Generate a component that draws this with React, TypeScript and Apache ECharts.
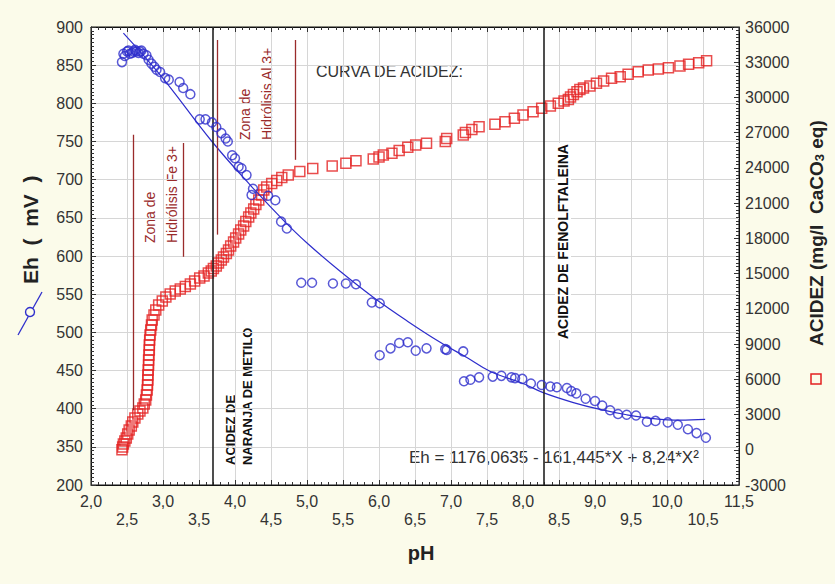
import React, { useEffect, useRef } from "react";
import * as echarts from "echarts";

// ---------- tick labels (as printed in the figure) ----------
const xTickLabels = ["2,0", "2,5", "3,0", "3,5", "4,0", "4,5", "5,0", "5,5", "6,0", "6,5", "7,0", "7,5", "8,0", "8,5", "9,0", "9,5", "10,0", "10,5", "11,5"];
const ehTickLabels = ["200", "350", "400", "450", "500", "550", "600", "650", "700", "750", "800", "850", "900"];

// ---------- Eh (mV) measurements ----------
const ehPH = [2.43, 2.45, 2.47, 2.5, 2.52, 2.54, 2.57, 2.59, 2.61, 2.63, 2.66, 2.68, 2.7, 2.73, 2.77, 2.8, 2.84, 2.88, 2.91, 2.96, 3.03, 3.08, 3.23, 3.28, 3.38, 3.51, 3.59, 3.68, 3.74, 3.81, 3.87, 3.9, 3.96, 4.0, 4.05, 4.09, 4.16, 4.23, 4.25, 4.46, 4.56, 4.64, 4.72, 4.92, 5.07, 5.36, 5.54, 5.68, 5.9, 6.01, 6.01, 6.16, 6.28, 6.4, 6.51, 6.66, 6.92, 6.94, 7.17, 7.18, 7.27, 7.39, 7.58, 7.7, 7.84, 7.89, 7.99, 8.11, 8.26, 8.38, 8.47, 8.61, 8.67, 8.74, 8.87, 9.0, 9.1, 9.21, 9.32, 9.44, 9.57, 9.72, 9.84, 10.01, 10.15, 10.29, 10.41, 10.54];
const ehVal = [854, 865, 862, 868, 869, 865, 866, 868, 870, 868, 866, 868, 869, 865, 863, 857, 852, 848, 844, 841, 833, 831, 828, 820, 812, 779, 779, 775, 769, 761, 754, 750, 732, 728, 717, 715, 706, 680, 688, 679, 673, 645, 636, 565, 565, 564, 564, 563, 539, 538, 470, 479, 486, 487, 476, 479, 478, 477, 475, 436, 438, 441, 442, 443, 441, 440, 439, 433, 431, 429, 428, 427, 423, 420, 413, 410, 404, 398, 393, 392, 391, 383, 384, 382, 379, 373, 368, 362];

// ---------- fitted Eh curve ----------
const fitPH = [2.45, 2.98, 3.68, 4.23, 4.67, 5.0, 5.46, 5.92, 6.39, 6.85, 7.22, 7.54, 8.0, 8.28, 8.7, 9.07, 9.44, 9.81, 10.18, 10.53];
const fitVal = [892, 835, 750, 691, 647, 617, 580, 546, 515, 487, 467, 449, 433, 421, 408, 399, 392, 387, 385, 386];

// ---------- ACIDEZ (mg/l CaCO3 eq) ----------
const acPH = [2.43, 2.44, 2.45, 2.47, 2.49, 2.51, 2.53, 2.56, 2.58, 2.61, 2.65, 2.68, 2.72, 2.74, 2.76, 2.77, 2.78, 2.785, 2.79, 2.79, 2.795, 2.8, 2.8, 2.805, 2.81, 2.81, 2.815, 2.82, 2.83, 2.84, 2.85, 2.875, 2.9, 2.94, 2.99, 3.04, 3.1, 3.17, 3.24, 3.31, 3.38, 3.44, 3.51, 3.57, 3.63, 3.67, 3.7, 3.74, 3.77, 3.81, 3.84, 3.88, 3.91, 3.94, 3.98, 4.01, 4.05, 4.08, 4.12, 4.15, 4.19, 4.22, 4.26, 4.29, 4.33, 4.37, 4.4, 4.44, 4.51, 4.58, 4.65, 4.74, 4.9, 5.08, 5.35, 5.54, 5.68, 5.92, 6.0, 6.06, 6.18, 6.28, 6.4, 6.51, 6.66, 6.92, 6.94, 7.17, 7.2, 7.29, 7.39, 7.61, 7.75, 7.88, 8.0, 8.14, 8.26, 8.38, 8.49, 8.57, 8.63, 8.66, 8.7, 8.75, 8.79, 8.84, 8.93, 9.02, 9.12, 9.23, 9.35, 9.46, 9.6, 9.74, 9.88, 10.02, 10.18, 10.3, 10.44, 10.55];
const acVal = [0, 240, 490, 750, 1000, 1350, 1690, 2030, 2370, 2710, 3050, 3300, 3560, 3900, 4240, 4670, 5090, 5520, 5940, 6370, 6790, 7220, 7650, 8070, 8500, 8920, 9350, 9770, 10200, 10630, 11050, 11480, 11900, 12330, 12670, 13010, 13270, 13520, 13690, 13900, 14120, 14370, 14630, 14800, 15050, 15220, 15440, 15650, 15900, 16160, 16420, 16710, 17010, 17350, 17690, 18030, 18370, 18720, 19060, 19440, 19820, 20160, 20500, 20890, 21270, 21700, 22120, 22380, 22670, 22930, 23190, 23400, 23700, 23950, 24160, 24390, 24620, 24760, 24930, 25100, 25250, 25480, 25760, 25950, 26100, 26250, 26510, 26800, 27020, 27270, 27510, 27720, 27940, 28230, 28510, 28790, 29080, 29270, 29500, 29700, 29830, 30040, 30250, 30490, 30680, 30810, 30980, 31210, 31400, 31630, 31770, 31970, 32190, 32340, 32420, 32530, 32680, 32820, 32960, 33130];

// ---------- indicator end points and hydrolysis zone markers ----------
const indicatorPH = [3.69, 8.29]; // naranja de metilo, fenolftaleina
const zonePH = [2.58, 3.28, 3.75, 4.83];
const zoneFrom = [759, 748, 883, 883];
const zoneTo = [398, 599, 628, 726];

const BLUE = "#2e2ecc";
const RED = "#e42020";
const DARKRED = "#9a2b2b";
const FONT = '"Liberation Sans", Arial, sans-serif';
const BG = "#fbfbea";

export default function App() {
  const ref = useRef<HTMLDivElement>(null);

  useEffect(() => {
    if (!ref.current) return;
    const chart = echarts.init(ref.current, undefined, { renderer: "svg" });

    const tickCommon = {
      axisLine: { show: true, onZero: false, lineStyle: { color: "#111", width: 1 } },
      axisTick: { show: true, inside: true, length: 5, lineStyle: { color: "#333", width: 1 } },
    };

    const option: any = {
      animation: false,
      backgroundColor: BG,
      grid: {
        left: 91, right: 96, top: 27, bottom: 99,
        show: true, backgroundColor: "#ffffff", borderColor: "#111", borderWidth: 1,
      },
      xAxis: [
        {
          type: "value", position: "bottom", min: 2, max: 11, interval: 0.5,
          ...tickCommon,
          minorTick: { show: true, splitNumber: 5, length: 3, lineStyle: { color: "#333" } },
          splitLine: { show: true, lineStyle: { color: "#d6d6d6", width: 1 } },
          axisLabel: {
            color: "#333", fontSize: 16, fontFamily: FONT, margin: 7, lineHeight: 18,
            formatter: (v: number) => {
              const i = Math.round((v - 2) / 0.5);
              const t = xTickLabels[i] ?? "";
              return i % 2 ? "\n" + t : t;
            },
          },
        },
        {
          type: "value", position: "top", min: 2, max: 11, interval: 0.5,
          ...tickCommon,
          minorTick: { show: true, splitNumber: 5, length: 3, lineStyle: { color: "#333" } },
          splitLine: { show: false },
          axisLabel: { show: false },
        },
      ],
      yAxis: [
        {
          type: "value", position: "left", min: 300, max: 900, interval: 50,
          ...tickCommon,
          minorTick: { show: true, splitNumber: 10, length: 3, lineStyle: { color: "#333" } },
          splitLine: { show: true, lineStyle: { color: "#d6d6d6", width: 1 } },
          axisLabel: {
            color: "#333", fontSize: 16, fontFamily: FONT, margin: 8,
            formatter: (v: number) => ehTickLabels[Math.round((v - 300) / 50)] ?? "",
          },
        },
        {
          type: "value", position: "right", min: -3000, max: 36000, interval: 3000,
          ...tickCommon,
          minorTick: { show: true, splitNumber: 10, length: 3, lineStyle: { color: "#333" } },
          splitLine: { show: false },
          axisLabel: { color: "#333", fontSize: 16, fontFamily: FONT, margin: 6, formatter: (v: number) => String(v) },
        },
      ],
      series: [
        {
          name: "ACIDEZ",
          type: "scatter",
          yAxisIndex: 1,
          symbol: "rect",
          symbolSize: 10,
          itemStyle: { color: "rgba(255,255,255,0)", borderColor: RED, borderWidth: 1.5 },
          data: acPH.map((x, i) => [x, acVal[i]]),
          z: 3,
        },
        {
          name: "Eh fit",
          type: "line",
          smooth: 0.4,
          showSymbol: false,
          lineStyle: { color: BLUE, width: 1.2 },
          data: fitPH.map((x, i) => [x, fitVal[i]]),
          z: 4,
        },
        {
          name: "Eh",
          type: "scatter",
          symbol: "circle",
          symbolSize: 9,
          itemStyle: { color: "rgba(255,255,255,0)", borderColor: BLUE, borderWidth: 1.5 },
          data: ehPH.map((x, i) => [x, ehVal[i]]),
          z: 5,
          markLine: {
            silent: true,
            symbol: ["none", "none"],
            label: { show: false },
            lineStyle: { type: "solid" },
            data: [
              ...indicatorPH.map((x) => ({ xAxis: x, lineStyle: { color: "#222", width: 1.6, type: "solid" } })),
              ...zonePH.map((x, i) => [
                { coord: [x, zoneFrom[i]], lineStyle: { color: DARKRED, width: 1.3, type: "solid" } },
                { coord: [x, zoneTo[i]] },
              ]),
            ],
          },
        },
      ],
      graphic: [
        { type: "text", x: 316, y: 71, style: { text: "CURVA DE ACIDEZ:", font: `16px ${FONT}`, fill: "#333", verticalAlign: "middle" } },
        { type: "text", x: 409, y: 457, style: { text: "Eh = 1176,0635 - 161,445*X + 8,24*X²", font: `17px ${FONT}`, fill: "#333", verticalAlign: "middle" } },
        { type: "text", x: 161, y: 243, rotation: Math.PI / 2, style: { text: "Zona de\nHidrólisis Fe 3+", font: `14px ${FONT}`, fill: DARKRED, align: "left", verticalAlign: "middle", lineHeight: 22 } },
        { type: "text", x: 256, y: 140, rotation: Math.PI / 2, style: { text: "Zona de\nHidrólisis Al 3+", font: `14px ${FONT}`, fill: DARKRED, align: "left", verticalAlign: "middle", lineHeight: 22 } },
        { type: "text", x: 238.5, y: 465, rotation: Math.PI / 2, style: { text: "ACIDEZ DE\nNARANJA DE METILO", font: `bold 13px ${FONT}`, fill: "#111", align: "left", verticalAlign: "middle", lineHeight: 17 } },
        { type: "text", x: 563, y: 340, rotation: Math.PI / 2, z: 10, style: { text: "ACIDEZ DE FENOLFTALEINA", font: `bold 14px ${FONT}`, fill: "#111", align: "left", verticalAlign: "middle", backgroundColor: "#ffffff", padding: [1, 1, 1, 1] } },
        { type: "text", x: 421, y: 553, style: { text: "pH", font: `bold 20px ${FONT}`, fill: "#222", align: "center", verticalAlign: "middle" } },
        { type: "text", x: 30, y: 284, rotation: Math.PI / 2, style: { text: "Eh  (  mV  )", font: `bold 21px ${FONT}`, fill: "#222", align: "left", verticalAlign: "middle" } },
        { type: "line", shape: { x1: 18, y1: 335, x2: 42, y2: 292 }, style: { stroke: BLUE, lineWidth: 1.3 } },
        { type: "circle", shape: { cx: 30, cy: 312, r: 4.5 }, style: { fill: BG, stroke: BLUE, lineWidth: 1.4 } },
        {
          type: "text", x: 815, y: 346, rotation: Math.PI / 2,
          style: {
            text: "{a|ACIDEZ (mg/l  CaCO}{s|3}{a| eq)}",
            align: "left", verticalAlign: "middle",
            rich: {
              a: { fontSize: 19, fontWeight: "bold", fontFamily: "Liberation Sans, Arial, sans-serif", fill: "#222", lineHeight: 22, verticalAlign: "bottom" },
              s: { fontSize: 13, fontWeight: "bold", fontFamily: "Liberation Sans, Arial, sans-serif", fill: "#222", lineHeight: 13, verticalAlign: "bottom" },
            },
          },
        },
        { type: "rect", shape: { x: 811, y: 374, width: 10, height: 10 }, style: { fill: "none", stroke: RED, lineWidth: 1.5 } },
      ],
    };

    chart.setOption(option);
    return () => chart.dispose();
  }, []);

  return (
    <div
      ref={ref}
      style={{ position: "fixed", left: 0, top: 0, width: 835, height: 584, background: BG }}
    />
  );
}
